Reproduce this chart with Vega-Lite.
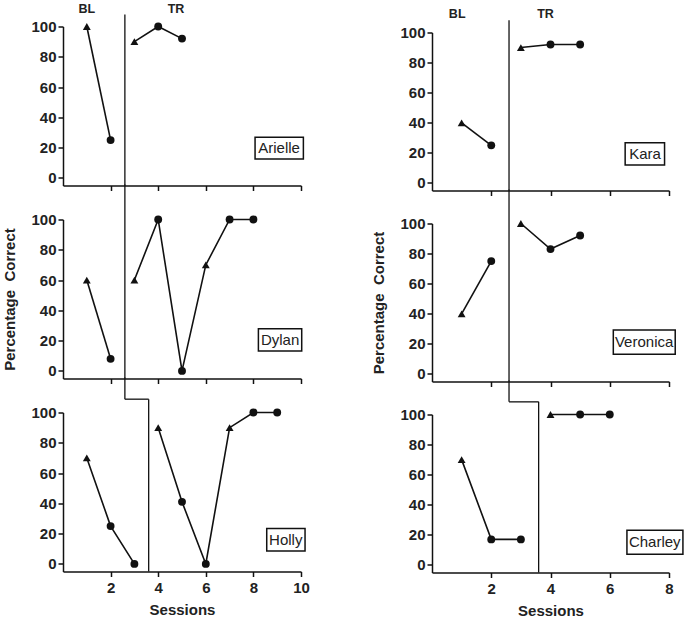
{
  "$schema": "https://vega.github.io/schema/vega-lite/v6.json",
  "padding": {"left": 2, "top": 2.5, "right": 0, "bottom": 0},
  "background": "white",
  "datasets": {
    "sessions": [
      {"student": "Arielle", "session": 1, "pct": 100, "phase": "BL", "measure": "probe"},
      {"student": "Arielle", "session": 2, "pct": 25, "phase": "BL", "measure": "session"},
      {"student": "Arielle", "session": 3, "pct": 90, "phase": "TR", "measure": "probe"},
      {"student": "Arielle", "session": 4, "pct": 100, "phase": "TR", "measure": "session"},
      {"student": "Arielle", "session": 5, "pct": 92, "phase": "TR", "measure": "session"},
      {"student": "Dylan", "session": 1, "pct": 60, "phase": "BL", "measure": "probe"},
      {"student": "Dylan", "session": 2, "pct": 8, "phase": "BL", "measure": "session"},
      {"student": "Dylan", "session": 3, "pct": 60, "phase": "TR", "measure": "probe"},
      {"student": "Dylan", "session": 4, "pct": 100, "phase": "TR", "measure": "session"},
      {"student": "Dylan", "session": 5, "pct": 0, "phase": "TR", "measure": "session"},
      {"student": "Dylan", "session": 6, "pct": 70, "phase": "TR", "measure": "probe"},
      {"student": "Dylan", "session": 7, "pct": 100, "phase": "TR", "measure": "session"},
      {"student": "Dylan", "session": 8, "pct": 100, "phase": "TR", "measure": "session"},
      {"student": "Holly", "session": 1, "pct": 70, "phase": "BL", "measure": "probe"},
      {"student": "Holly", "session": 2, "pct": 25, "phase": "BL", "measure": "session"},
      {"student": "Holly", "session": 3, "pct": 0, "phase": "BL", "measure": "session"},
      {"student": "Holly", "session": 4, "pct": 90, "phase": "TR", "measure": "probe"},
      {"student": "Holly", "session": 5, "pct": 41, "phase": "TR", "measure": "session"},
      {"student": "Holly", "session": 6, "pct": 0, "phase": "TR", "measure": "session"},
      {"student": "Holly", "session": 7, "pct": 90, "phase": "TR", "measure": "probe"},
      {"student": "Holly", "session": 8, "pct": 100, "phase": "TR", "measure": "session"},
      {"student": "Holly", "session": 9, "pct": 100, "phase": "TR", "measure": "session"},
      {"student": "Kara", "session": 1, "pct": 40, "phase": "BL", "measure": "probe"},
      {"student": "Kara", "session": 2, "pct": 25, "phase": "BL", "measure": "session"},
      {"student": "Kara", "session": 3, "pct": 90, "phase": "TR", "measure": "probe"},
      {"student": "Kara", "session": 4, "pct": 92, "phase": "TR", "measure": "session"},
      {"student": "Kara", "session": 5, "pct": 92, "phase": "TR", "measure": "session"},
      {"student": "Veronica", "session": 1, "pct": 40, "phase": "BL", "measure": "probe"},
      {"student": "Veronica", "session": 2, "pct": 75, "phase": "BL", "measure": "session"},
      {"student": "Veronica", "session": 3, "pct": 100, "phase": "TR", "measure": "probe"},
      {"student": "Veronica", "session": 4, "pct": 83, "phase": "TR", "measure": "session"},
      {"student": "Veronica", "session": 5, "pct": 92, "phase": "TR", "measure": "session"},
      {"student": "Charley", "session": 1, "pct": 70, "phase": "BL", "measure": "probe"},
      {"student": "Charley", "session": 2, "pct": 17, "phase": "BL", "measure": "session"},
      {"student": "Charley", "session": 3, "pct": 17, "phase": "BL", "measure": "session"},
      {"student": "Charley", "session": 4, "pct": 100, "phase": "TR", "measure": "probe"},
      {"student": "Charley", "session": 5, "pct": 100, "phase": "TR", "measure": "session"},
      {"student": "Charley", "session": 6, "pct": 100, "phase": "TR", "measure": "session"}
    ]
  },
  "config": {
    "view": {"stroke": null},
    "font": "Liberation Sans",
    "axis": {
      "grid": false,
      "domainColor": "#111",
      "domainWidth": 1.5,
      "tickColor": "#111",
      "tickWidth": 1.5,
      "tickSize": 5,
      "labelFont": "Liberation Sans",
      "labelFontWeight": "bold",
      "labelFontSize": 15,
      "labelColor": "#222",
      "labelOverlap": false,
      "labelFlush": false,
      "titleFont": "Liberation Sans",
      "titleFontWeight": "bold",
      "titleFontSize": 15,
      "titleColor": "#222"
    },
    "axisY": {"titlePadding": 13, "labelPadding": 2},
    "axisX": {"titlePadding": 7, "labelPadding": 4},
    "line": {"color": "#111", "strokeWidth": 1.6},
    "point": {"color": "#111", "filled": true, "opacity": 1, "size": 62},
    "rule": {"color": "#111", "strokeWidth": 1.3},
    "text": {"font": "Liberation Sans", "color": "#222"},
    "rect": {"fill": "white", "stroke": "#111", "strokeWidth": 1.5}
  },
  "spacing": 369,
  "bounds": "flush",
  "hconcat": [
    {
      "spacing": 34,
      "bounds": "flush",
      "vconcat": [
        {
          "width": 238,
          "height": 159,
          "layer": [
            {
              "data": {"name": "sessions"},
              "transform": [{"filter": "datum.student === 'Arielle'"}],
              "mark": "line",
              "encoding": {
                "x": {"field": "session", "type": "quantitative", "scale": {"domain": [0, 10], "nice": false, "zero": false}, "axis": {"values": [2, 4, 6, 8, 10], "labels": false, "title": null}},
                "y": {"field": "pct", "type": "quantitative", "scale": {"domain": [-5, 100], "nice": false}, "axis": {"values": [0, 20, 40, 60, 80, 100], "labelOverlap": false, "tickCount": 6, "title": null}},
                "detail": {"field": "phase"}
              }
            },
            {
              "data": {"name": "sessions"},
              "transform": [{"filter": "datum.student === 'Arielle'"}],
              "mark": "point",
              "encoding": {
                "x": {"field": "session", "type": "quantitative"},
                "y": {"field": "pct", "type": "quantitative"},
                "shape": {"field": "measure", "type": "nominal", "scale": {"domain": ["probe", "session"], "range": ["triangle-up", "circle"]}, "legend": null}
              }
            },
            {
              "data": {"values": [{}]},
              "mark": {"type": "rule", "clip": false},
              "encoding": {"x": {"datum": 2.6}, "y": {"datum": -5}, "y2": {"datum": 108}}
            },
            {
              "data": {"values": [{}]},
              "mark": {"type": "text", "text": "BL", "fontWeight": "bold", "fontSize": 12.5, "clip": false},
              "encoding": {"x": {"datum": 1}, "y": {"datum": 111.8}}
            },
            {
              "data": {"values": [{}]},
              "mark": {"type": "text", "text": "TR", "fontWeight": "bold", "fontSize": 12.5, "clip": false},
              "encoding": {"x": {"datum": 4.75}, "y": {"datum": 111.8}}
            },
            {
              "data": {"values": [{}]},
              "mark": {"type": "rect", "clip": false},
              "encoding": {"x": {"datum": 8.07}, "x2": {"datum": 10.1}, "y": {"datum": 12.5}, "y2": {"datum": 26.9}}
            },
            {
              "data": {"values": [{}]},
              "mark": {"type": "text", "text": "Arielle", "fontSize": 15, "clip": false},
              "encoding": {"x": {"datum": 9.08}, "y": {"datum": 19.7}}
            }
          ]
        },
        {
          "width": 238,
          "height": 159,
          "layer": [
            {
              "data": {"name": "sessions"},
              "transform": [{"filter": "datum.student === 'Dylan'"}],
              "mark": "line",
              "encoding": {
                "x": {"field": "session", "type": "quantitative", "scale": {"domain": [0, 10], "nice": false, "zero": false}, "axis": {"values": [2, 4, 6, 8, 10], "labels": false, "title": null}},
                "y": {"field": "pct", "type": "quantitative", "scale": {"domain": [-5, 100], "nice": false}, "axis": {"values": [0, 20, 40, 60, 80, 100], "labelOverlap": false, "tickCount": 6, "title": "Percentage\u00a0 Correct"}},
                "detail": {"field": "phase"}
              }
            },
            {
              "data": {"name": "sessions"},
              "transform": [{"filter": "datum.student === 'Dylan'"}],
              "mark": "point",
              "encoding": {
                "x": {"field": "session", "type": "quantitative"},
                "y": {"field": "pct", "type": "quantitative"},
                "shape": {"field": "measure", "type": "nominal", "scale": {"domain": ["probe", "session"], "range": ["triangle-up", "circle"]}, "legend": null}
              }
            },
            {
              "data": {"values": [{}]},
              "mark": {"type": "rule", "clip": false},
              "encoding": {"x": {"datum": 2.6}, "y": {"datum": -5}, "y2": {"datum": 123.1}}
            },
            {
              "data": {"values": [{}]},
              "mark": {"type": "rect", "clip": false},
              "encoding": {"x": {"datum": 8.21}, "x2": {"datum": 10.03}, "y": {"datum": 13.2}, "y2": {"datum": 27.9}}
            },
            {
              "data": {"values": [{}]},
              "mark": {"type": "text", "text": "Dylan", "fontSize": 15, "clip": false},
              "encoding": {"x": {"datum": 9.12}, "y": {"datum": 20.5}}
            }
          ]
        },
        {
          "width": 238,
          "height": 159,
          "layer": [
            {
              "data": {"name": "sessions"},
              "transform": [{"filter": "datum.student === 'Holly'"}],
              "mark": "line",
              "encoding": {
                "x": {"field": "session", "type": "quantitative", "scale": {"domain": [0, 10], "nice": false, "zero": false}, "axis": {"values": [2, 4, 6, 8, 10], "title": "Sessions"}},
                "y": {"field": "pct", "type": "quantitative", "scale": {"domain": [-5, 100], "nice": false}, "axis": {"values": [0, 20, 40, 60, 80, 100], "labelOverlap": false, "tickCount": 6, "title": null}},
                "detail": {"field": "phase"}
              }
            },
            {
              "data": {"name": "sessions"},
              "transform": [{"filter": "datum.student === 'Holly'"}],
              "mark": "point",
              "encoding": {
                "x": {"field": "session", "type": "quantitative"},
                "y": {"field": "pct", "type": "quantitative"},
                "shape": {"field": "measure", "type": "nominal", "scale": {"domain": ["probe", "session"], "range": ["triangle-up", "circle"]}, "legend": null}
              }
            },
            {
              "data": {"values": [{}]},
              "mark": {"type": "rule", "clip": false},
              "encoding": {"x": {"datum": 2.6}, "y": {"datum": 108.8}, "y2": {"datum": 123.1}}
            },
            {
              "data": {"values": [{}]},
              "mark": {"type": "rule", "clip": false},
              "encoding": {"x": {"datum": 2.6}, "x2": {"datum": 3.6}, "y": {"datum": 108.8}}
            },
            {
              "data": {"values": [{}]},
              "mark": {"type": "rule", "clip": false},
              "encoding": {"x": {"datum": 3.6}, "y": {"datum": -5}, "y2": {"datum": 108.8}}
            },
            {
              "data": {"values": [{}]},
              "mark": {"type": "rect", "clip": false},
              "encoding": {"x": {"datum": 8.56}, "x2": {"datum": 10.17}, "y": {"datum": 8.6}, "y2": {"datum": 23.4}}
            },
            {
              "data": {"values": [{}]},
              "mark": {"type": "text", "text": "Holly", "fontSize": 15, "clip": false},
              "encoding": {"x": {"datum": 9.36}, "y": {"datum": 16}}
            }
          ]
        }
      ]
    },
    {
      "spacing": 5,
      "bounds": "flush",
      "vconcat": [
        {
          "width": 237,
          "height": 1,
          "data": {"values": []},
          "mark": {"type": "point", "opacity": 0},
          "encoding": {}
        },
        {
          "spacing": 33,
          "bounds": "flush",
          "vconcat": [
            {
              "width": 237,
              "height": 158,
              "layer": [
                {
                  "data": {"name": "sessions"},
                  "transform": [{"filter": "datum.student === 'Kara'"}],
                  "mark": "line",
                  "encoding": {
                    "x": {"field": "session", "type": "quantitative", "scale": {"domain": [0, 8], "nice": false, "zero": false}, "axis": {"values": [2, 4, 6, 8], "labels": false, "title": null}},
                    "y": {"field": "pct", "type": "quantitative", "scale": {"domain": [-5, 100], "nice": false}, "axis": {"values": [0, 20, 40, 60, 80, 100], "labelOverlap": false, "tickCount": 6, "title": null}},
                    "detail": {"field": "phase"}
                  }
                },
                {
                  "data": {"name": "sessions"},
                  "transform": [{"filter": "datum.student === 'Kara'"}],
                  "mark": "point",
                  "encoding": {
                    "x": {"field": "session", "type": "quantitative"},
                    "y": {"field": "pct", "type": "quantitative"},
                    "shape": {"field": "measure", "type": "nominal", "scale": {"domain": ["probe", "session"], "range": ["triangle-up", "circle"]}, "legend": null}
                  }
                },
                {
                  "data": {"values": [{}]},
                  "mark": {"type": "rule", "clip": false},
                  "encoding": {"x": {"datum": 2.6}, "y": {"datum": -5}, "y2": {"datum": 108.2}}
                },
                {
                  "data": {"values": [{}]},
                  "mark": {"type": "text", "text": "BL", "fontWeight": "bold", "fontSize": 12.5, "clip": false},
                  "encoding": {"x": {"datum": 0.85}, "y": {"datum": 112.1}}
                },
                {
                  "data": {"values": [{}]},
                  "mark": {"type": "text", "text": "TR", "fontWeight": "bold", "fontSize": 12.5, "clip": false},
                  "encoding": {"x": {"datum": 3.83}, "y": {"datum": 112.1}}
                },
                {
                  "data": {"values": [{}]},
                  "mark": {"type": "rect", "clip": false},
                  "encoding": {"x": {"datum": 6.52}, "x2": {"datum": 7.85}, "y": {"datum": 12}, "y2": {"datum": 26.8}}
                },
                {
                  "data": {"values": [{}]},
                  "mark": {"type": "text", "text": "Kara", "fontSize": 15, "clip": false},
                  "encoding": {"x": {"datum": 7.19}, "y": {"datum": 19.4}}
                }
              ]
            },
            {
              "width": 237,
              "height": 158,
              "layer": [
                {
                  "data": {"name": "sessions"},
                  "transform": [{"filter": "datum.student === 'Veronica'"}],
                  "mark": "line",
                  "encoding": {
                    "x": {"field": "session", "type": "quantitative", "scale": {"domain": [0, 8], "nice": false, "zero": false}, "axis": {"values": [2, 4, 6, 8], "labels": false, "title": null}},
                    "y": {"field": "pct", "type": "quantitative", "scale": {"domain": [-5, 100], "nice": false}, "axis": {"values": [0, 20, 40, 60, 80, 100], "labelOverlap": false, "tickCount": 6, "title": "Percentage\u00a0 Correct"}},
                    "detail": {"field": "phase"}
                  }
                },
                {
                  "data": {"name": "sessions"},
                  "transform": [{"filter": "datum.student === 'Veronica'"}],
                  "mark": "point",
                  "encoding": {
                    "x": {"field": "session", "type": "quantitative"},
                    "y": {"field": "pct", "type": "quantitative"},
                    "shape": {"field": "measure", "type": "nominal", "scale": {"domain": ["probe", "session"], "range": ["triangle-up", "circle"]}, "legend": null}
                  }
                },
                {
                  "data": {"values": [{}]},
                  "mark": {"type": "rule", "clip": false},
                  "encoding": {"x": {"datum": 2.6}, "y": {"datum": -5}, "y2": {"datum": 122.6}}
                },
                {
                  "data": {"values": [{}]},
                  "mark": {"type": "rect", "clip": false},
                  "encoding": {"x": {"datum": 6.12}, "x2": {"datum": 8.21}, "y": {"datum": 13.1}, "y2": {"datum": 29.2}}
                },
                {
                  "data": {"values": [{}]},
                  "mark": {"type": "text", "text": "Veronica", "fontSize": 15, "clip": false},
                  "encoding": {"x": {"datum": 7.16}, "y": {"datum": 21.2}}
                }
              ]
            },
            {
              "width": 237,
              "height": 158,
              "layer": [
                {
                  "data": {"name": "sessions"},
                  "transform": [{"filter": "datum.student === 'Charley'"}],
                  "mark": "line",
                  "encoding": {
                    "x": {"field": "session", "type": "quantitative", "scale": {"domain": [0, 8], "nice": false, "zero": false}, "axis": {"values": [2, 4, 6, 8], "title": "Sessions"}},
                    "y": {"field": "pct", "type": "quantitative", "scale": {"domain": [-5, 100], "nice": false}, "axis": {"values": [0, 20, 40, 60, 80, 100], "labelOverlap": false, "tickCount": 6, "title": null}},
                    "detail": {"field": "phase"}
                  }
                },
                {
                  "data": {"name": "sessions"},
                  "transform": [{"filter": "datum.student === 'Charley'"}],
                  "mark": "point",
                  "encoding": {
                    "x": {"field": "session", "type": "quantitative"},
                    "y": {"field": "pct", "type": "quantitative"},
                    "shape": {"field": "measure", "type": "nominal", "scale": {"domain": ["probe", "session"], "range": ["triangle-up", "circle"]}, "legend": null}
                  }
                },
                {
                  "data": {"values": [{}]},
                  "mark": {"type": "rule", "clip": false},
                  "encoding": {"x": {"datum": 2.6}, "y": {"datum": 108.4}, "y2": {"datum": 122.6}}
                },
                {
                  "data": {"values": [{}]},
                  "mark": {"type": "rule", "clip": false},
                  "encoding": {"x": {"datum": 2.6}, "x2": {"datum": 3.6}, "y": {"datum": 108.4}}
                },
                {
                  "data": {"values": [{}]},
                  "mark": {"type": "rule", "clip": false},
                  "encoding": {"x": {"datum": 3.6}, "y": {"datum": -5}, "y2": {"datum": 108.4}}
                },
                {
                  "data": {"values": [{}]},
                  "mark": {"type": "rect", "clip": false},
                  "encoding": {"x": {"datum": 6.58}, "x2": {"datum": 8.47}, "y": {"datum": 7.1}, "y2": {"datum": 23}}
                },
                {
                  "data": {"values": [{}]},
                  "mark": {"type": "text", "text": "Charley", "fontSize": 15, "clip": false},
                  "encoding": {"x": {"datum": 7.52}, "y": {"datum": 15}}
                }
              ]
            }
          ]
        }
      ]
    }
  ]
}
